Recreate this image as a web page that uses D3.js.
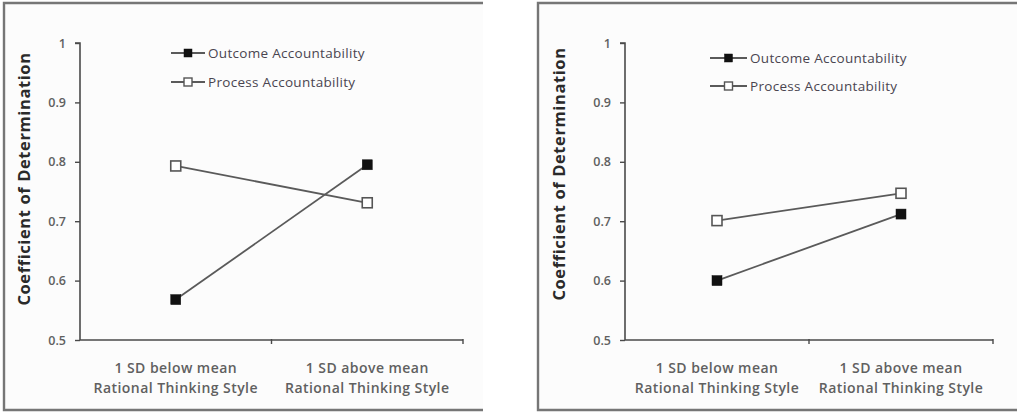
<!DOCTYPE html>
<html>
<head>
<meta charset="utf-8">
<script src="https://cdn.jsdelivr.net/npm/d3@7"></script>
<style>
  html, body { margin: 0; padding: 0; background: #ffffff; }
  svg { display: block; }
  text { font-family: "Open Sans", Lato, sans-serif; }
</style>
</head>
<body>
<svg id="chart" width="1017" height="412"></svg>
<script>
// Category labels (two lines each) along the x axis
const categories = ["1 SD below mean", "1 SD above mean"];
const categorySubtitle = "Rational Thinking Style";

// Y axis ticks
const yTicks = [0.5, 0.6, 0.7, 0.8, 0.9, 1];
const yTickLabels = ["0.5", "0.6", "0.7", "0.8", "0.9", "1"];

const seriesNames = ["Outcome Accountability", "Process Accountability"];

// Left panel values
const leftOutcome = [0.568, 0.795];
const leftProcess = [0.793, 0.731];

// Right panel values
const rightOutcome = [0.600, 0.712];
const rightProcess = [0.701, 0.747];

const yTitle = "Coefficient of Determination";

const svg = d3.select("#chart");

const panels = [
  {
    frame: { x0: 4, x1: 483, y0: 3, y1: 410 },
    axisX: [80, 463], axisY: [340, 43],
    legend: { x0: 171, x1: 205, y: [53, 82], tx: 208 },
    title: { x: 23, y: 179 },
    series: [leftOutcome, leftProcess]
  },
  {
    frame: { x0: 538, x1: 1017, y0: 3, y1: 410 },
    axisX: [625, 993], axisY: [340, 43],
    legend: { x0: 710, x1: 747, y: [58, 86], tx: 750 },
    title: { x: 558, y: 174 },
    series: [rightOutcome, rightProcess]
  }
];

const fills = ["#111111", "#ffffff"];
const lineColor = "#5a5a5a";
const axisColor = "#4a4a4a";
const textGrey = "#606060";

panels.forEach(p => {
  const g = svg.append("g");

  // Panel frame: left, top and bottom edges
  const f = p.frame;
  g.append("rect")
    .attr("x", f.x0 + 1.2).attr("y", f.y0 + 1.2)
    .attr("width", f.x1 - f.x0 - 1.2).attr("height", f.y1 - f.y0 - 2.4)
    .attr("fill", "#fcfcfc");
  g.append("path")
    .attr("d", `M${f.x1},${f.y0}H${f.x0}V${f.y1}H${f.x1}`)
    .attr("fill", "none")
    .attr("stroke", "#767676")
    .attr("stroke-width", 2.4);

  const x = d3.scaleBand().domain(categories).range(p.axisX);
  const y = d3.scaleLinear().domain([0.5, 1]).range(p.axisY);

  // Y axis
  const yAxis = d3.axisLeft(y)
    .tickValues(yTicks)
    .tickFormat((d, i) => yTickLabels[i])
    .tickSize(5)
    .tickPadding(9);
  const ya = g.append("g")
    .attr("transform", `translate(${p.axisX[0]},0)`)
    .call(yAxis);
  ya.select(".domain").attr("stroke", axisColor).attr("stroke-width", 1.6)
    .attr("d", `M-5,${p.axisY[1]}H0V${p.axisY[0]}`);
  ya.selectAll(".tick line").attr("stroke", axisColor).attr("stroke-width", 1.4);
  ya.selectAll(".tick text")
    .attr("fill", textGrey)
    .style("font-family", "'Open Sans', sans-serif")
    .style("font-size", "12.5px")
    .style("font-weight", "600");

  // X axis with ticks at band boundaries
  const xa = g.append("g").attr("transform", `translate(0,${p.axisY[0]})`);
  xa.append("line")
    .attr("x1", p.axisX[0]).attr("x2", p.axisX[1])
    .attr("stroke", axisColor).attr("stroke-width", 1.6);
  const bounds = categories.map(c => x(c) + x.bandwidth());
  xa.selectAll("line.tk").data(bounds).join("line")
    .attr("class", "tk")
    .attr("x1", d => d).attr("x2", d => d)
    .attr("y1", -1).attr("y2", 4)
    .attr("stroke", axisColor).attr("stroke-width", 1.4);
  xa.selectAll("text.c1").data(categories).join("text")
    .attr("class", "c1")
    .attr("x", d => x(d) + x.bandwidth() / 2)
    .attr("y", 33)
    .attr("text-anchor", "middle")
    .attr("fill", textGrey)
    .style("font-size", "14px")
    .style("letter-spacing", "0.45px")
    .style("font-weight", "600")
    .text(d => d);
  xa.selectAll("text.c2").data(categories).join("text")
    .attr("class", "c2")
    .attr("x", d => x(d) + x.bandwidth() / 2)
    .attr("y", 53)
    .attr("text-anchor", "middle")
    .attr("fill", textGrey)
    .style("font-size", "14px")
    .style("letter-spacing", "0.45px")
    .style("font-weight", "600")
    .text(categorySubtitle);

  // Y axis title
  g.append("text")
    .attr("transform", `translate(${p.title.x},${p.title.y}) rotate(-90)`)
    .attr("text-anchor", "middle")
    .attr("dominant-baseline", "central")
    .attr("fill", "#2a2a2a")
    .style("font-size", "16.5px")
    .style("letter-spacing", "0.6px")
    .style("font-weight", "bold")
    .text(yTitle);

  // Series lines and markers (process first so outcome sits on top)
  const line = d3.line()
    .x((d, i) => x(categories[i]) + x.bandwidth() / 2)
    .y(d => y(d));
  [1, 0].forEach(si => {
    const vals = p.series[si];
    g.append("path")
      .datum(vals)
      .attr("d", line)
      .attr("fill", "none")
      .attr("stroke", lineColor)
      .attr("stroke-width", 1.8);
    g.selectAll(null).data(vals).join("rect")
      .attr("x", (d, i) => x(categories[i]) + x.bandwidth() / 2 - 5)
      .attr("y", d => y(d) - 5)
      .attr("width", 10).attr("height", 10)
      .attr("fill", fills[si])
      .attr("stroke", si === 0 ? "#111111" : "#555555")
      .attr("stroke-width", si === 0 ? 0.5 : 1.6);
  });

  // Legend
  const L = p.legend;
  seriesNames.forEach((name, si) => {
    const ly = L.y[si];
    g.append("line")
      .attr("x1", L.x0).attr("x2", L.x1)
      .attr("y1", ly).attr("y2", ly)
      .attr("stroke", lineColor).attr("stroke-width", 1.8);
    const cx = (L.x0 + L.x1) / 2;
    g.append("rect")
      .attr("x", cx - 4).attr("y", ly - 4)
      .attr("width", 8).attr("height", 8)
      .attr("fill", fills[si])
      .attr("stroke", si === 0 ? "#111111" : "#555555")
      .attr("stroke-width", si === 0 ? 0.5 : 1.4);
    g.append("text")
      .attr("x", L.tx).attr("y", ly)
      .attr("dominant-baseline", "central")
      .attr("fill", "#4a4550")
      .style("font-size", "13.5px")
      .style("letter-spacing", "0.3px")
      .text(name);
  });
});
</script>
</body>
</html>
